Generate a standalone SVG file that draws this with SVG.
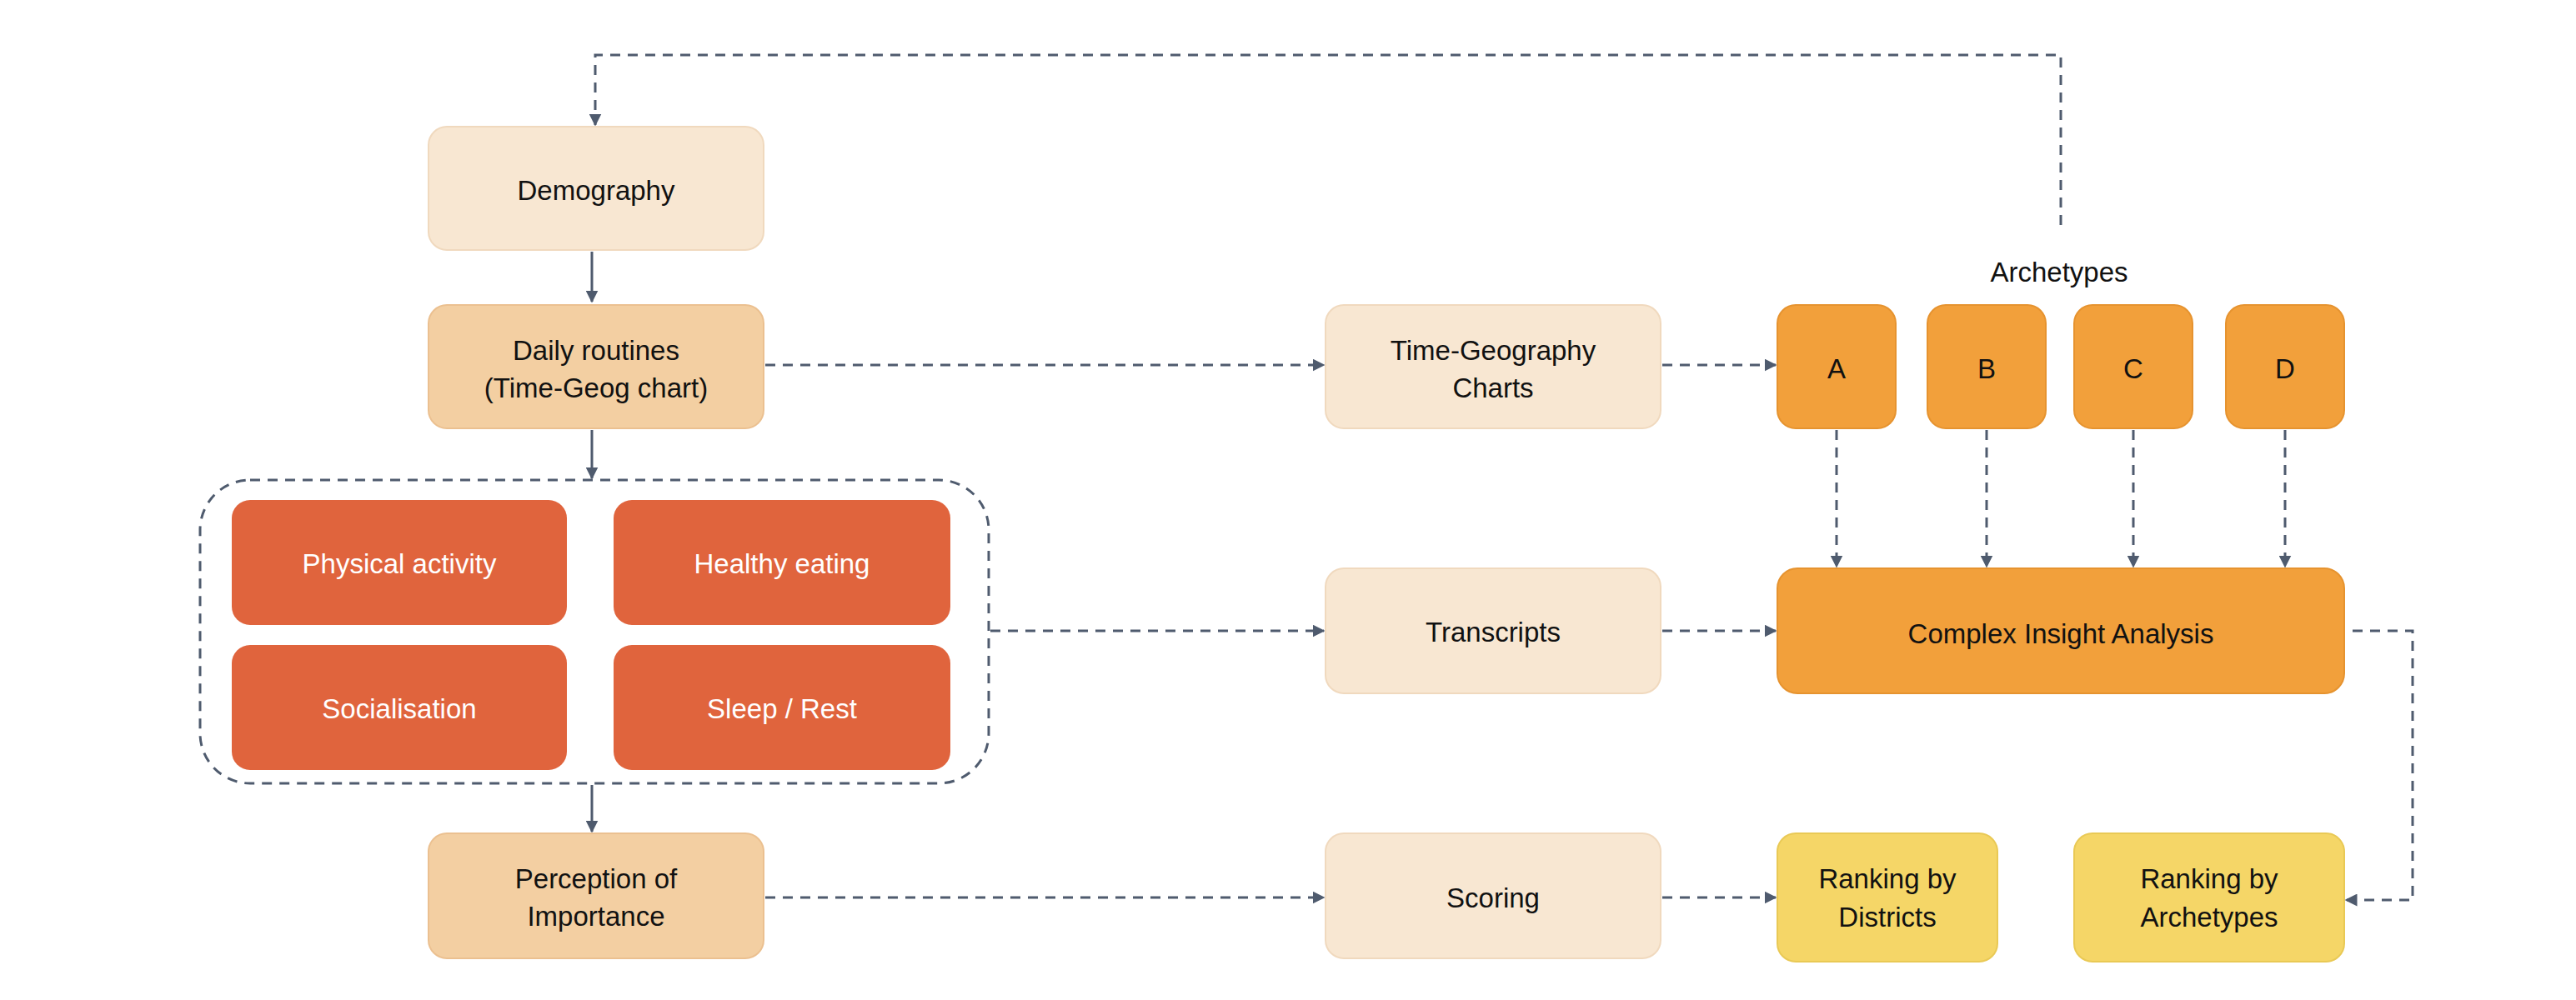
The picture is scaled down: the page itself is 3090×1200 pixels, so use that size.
<svg xmlns="http://www.w3.org/2000/svg" width="3090" height="1200" viewBox="0 0 3090 1200">
<style>
text{font-family:"Liberation Sans",Arial,sans-serif;font-size:33px;fill:#111;text-anchor:middle;dominant-baseline:central}
.w{fill:#fff}
.l{fill:#F8E7D2;stroke:#F0D9BE;stroke-width:2}
.m{fill:#F3CFA2;stroke:#EBC090;stroke-width:2}
.r{fill:#E0643D}
.o{fill:#F2A03B;stroke:#E6932F;stroke-width:2}
.y{fill:#F5D667;stroke:#E9C955;stroke-width:2}
.c{fill:none;stroke:#4F5B6E;stroke-width:3}
.d{stroke-dasharray:12 9}
</style>
<defs><marker id="a" viewBox="0 0 10 10" refX="9" refY="5" markerWidth="5" markerHeight="5" orient="auto"><path d="M0,0L10,5L0,10z" fill="#4F5B6E"/></marker></defs>
<g id="connectors">
<path class="c d" d="M2472,270V66H714V150" marker-end="url(#a)"/>
<path class="c" d="M710,302V362" marker-end="url(#a)"/>
<path class="c" d="M710,516V574" marker-end="url(#a)"/>
<path class="c" d="M710,942V998" marker-end="url(#a)"/>
<path class="c d" d="M918,438H1588" marker-end="url(#a)"/>
<path class="c d" d="M1994,438H2130" marker-end="url(#a)"/>
<path class="c d" d="M1188,757H1588" marker-end="url(#a)"/>
<path class="c d" d="M1994,757H2130" marker-end="url(#a)"/>
<path class="c d" d="M918,1077H1588" marker-end="url(#a)"/>
<path class="c d" d="M1994,1077H2130" marker-end="url(#a)"/>
<path class="c d" d="M2203,516V680" marker-end="url(#a)"/>
<path class="c d" d="M2383,516V680" marker-end="url(#a)"/>
<path class="c d" d="M2559,516V680" marker-end="url(#a)"/>
<path class="c d" d="M2741,516V680" marker-end="url(#a)"/>
<path class="c d" d="M2822,757H2894V1080H2814" marker-end="url(#a)"/>
<rect class="c d" x="240" y="576" width="946" height="364" rx="60"/>
</g>
<g id="demography"><rect class="l" x="514" y="152" width="402" height="148" rx="22"/><text x="715" y="228">Demography</text></g>
<g id="daily"><rect class="m" x="514" y="366" width="402" height="148" rx="22"/><text x="715" y="420">Daily routines</text><text x="715" y="465">(Time-Geog chart)</text></g>
<g id="physical"><rect class="r" x="278" y="600" width="402" height="150" rx="22"/><text class="w" x="479" y="676">Physical activity</text></g>
<g id="healthy"><rect class="r" x="736" y="600" width="404" height="150" rx="22"/><text class="w" x="938" y="676">Healthy eating</text></g>
<g id="social"><rect class="r" x="278" y="774" width="402" height="150" rx="22"/><text class="w" x="479" y="850">Socialisation</text></g>
<g id="sleep"><rect class="r" x="736" y="774" width="404" height="150" rx="22"/><text class="w" x="938" y="850">Sleep / Rest</text></g>
<g id="perception"><rect class="m" x="514" y="1000" width="402" height="150" rx="22"/><text x="715" y="1054">Perception of</text><text x="715" y="1099">Importance</text></g>
<g id="tgcharts"><rect class="l" x="1590" y="366" width="402" height="148" rx="22"/><text x="1791" y="420">Time-Geography</text><text x="1791" y="465">Charts</text></g>
<g id="transcripts"><rect class="l" x="1590" y="682" width="402" height="150" rx="22"/><text x="1791" y="758">Transcripts</text></g>
<g id="scoring"><rect class="l" x="1590" y="1000" width="402" height="150" rx="22"/><text x="1791" y="1077">Scoring</text></g>
<g id="archetypes-label"><text x="2470" y="326">Archetypes</text></g>
<g id="A"><rect class="o" x="2132" y="366" width="142" height="148" rx="22"/><text x="2203" y="442">A</text></g>
<g id="B"><rect class="o" x="2312" y="366" width="142" height="148" rx="22"/><text x="2383" y="442">B</text></g>
<g id="C"><rect class="o" x="2488" y="366" width="142" height="148" rx="22"/><text x="2559" y="442">C</text></g>
<g id="D"><rect class="o" x="2670" y="366" width="142" height="148" rx="22"/><text x="2741" y="442">D</text></g>
<g id="complex"><rect class="o" x="2132" y="682" width="680" height="150" rx="24"/><text x="2472" y="760">Complex Insight Analysis</text></g>
<g id="rank-districts"><rect class="y" x="2132" y="1000" width="264" height="154" rx="22"/><text x="2264" y="1054">Ranking by</text><text x="2264" y="1100">Districts</text></g>
<g id="rank-archetypes"><rect class="y" x="2488" y="1000" width="324" height="154" rx="22"/><text x="2650" y="1054">Ranking by</text><text x="2650" y="1100">Archetypes</text></g>
</svg>
